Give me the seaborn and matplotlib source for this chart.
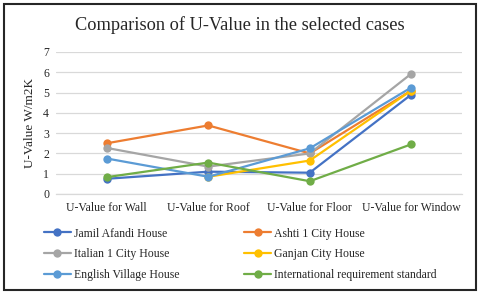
import numpy as np
import pandas as pd
import matplotlib
matplotlib.use("Agg")
import matplotlib.pyplot as plt
import seaborn as sns
from matplotlib.patches import Rectangle
from matplotlib.lines import Line2D

categories = ["U-Value for Wall", "U-Value for Roof", "U-Value for Floor", "U-Value for Window"]
jamil = [0.75, 1.1, 1.05, 4.9]
ashti = [2.5, 3.38, 2.0, 5.1]
italian = [2.27, 1.35, 2.0, 5.93]
ganjan = [np.nan, 0.85, 1.65, 5.1]
english = [1.75, 0.85, 2.25, 5.25]
intl = [0.83, 1.55, 0.63, 2.45]
series_names = ["Jamil Afandi House", "Ashti 1 City House", "Italian 1 City House",
                "Ganjan City House", "English Village House", "International requirement standard"]
series_values = [jamil, ashti, italian, ganjan, english, intl]
colors = ["#4472C4", "#ED7D31", "#A5A5A5", "#FFC000", "#5B9BD5", "#70AD47"]
yticks = [0, 1, 2, 3, 4, 5, 6, 7]

rows = []
for name, vals in zip(series_names, series_values):
    for c, v in zip(categories, vals):
        rows.append({"case": name, "category": c, "value": v})
df = pd.DataFrame(rows)

sns.set_theme(style="white")
plt.rcParams['font.family'] = ['Liberation Serif', 'DejaVu Serif']

fig = plt.figure(figsize=(4.8, 2.94), dpi=100)
ax = fig.add_axes([56/480, 1-194/294, (462-56)/480, (194-52)/294])

sns.lineplot(data=df, x="category", y="value", hue="case", hue_order=series_names,
             palette=colors, marker="o", markersize=6, markeredgewidth=0,
             linewidth=1.6, ax=ax, legend=False, sort=False)

ax.set_xlim(-0.5, 3.5)
ax.set_ylim(0, 7)
ax.set_yticks(yticks)
ax.set_yticklabels([str(t) for t in yticks], fontsize=8.5)
ax.set_xticks(range(len(categories)))
ax.set_xticklabels(categories, fontsize=8.5)
ax.tick_params(axis='both', length=0, pad=5, colors='#262626')
ax.tick_params(axis='x', pad=6)
ax.yaxis.grid(True, color='#D9D9D9', linewidth=0.9)
ax.set_axisbelow(True)
for s in ["left", "right", "top"]:
    ax.spines[s].set_visible(False)
ax.spines["bottom"].set_color('#D9D9D9')
ax.spines["bottom"].set_linewidth(0.9)
ax.set_xlabel("")
ax.set_ylabel("U-Value W/m2K", fontsize=9.5, color='#262626', labelpad=5)

fig.text(0.5, 1-25/294, "Comparison of U-Value in the selected cases",
         ha='center', va='center', fontsize=13.2, color='#262626')

# legend filled row by row (two columns)
order = [0, 2, 4, 1, 3, 5]
handles = [Line2D([0], [0], color=colors[i], linewidth=1.6, marker='o', markersize=6,
                  markeredgewidth=0) for i in order]
labels = [series_names[i] for i in order]
fig.legend(handles, labels, ncol=2, loc='upper left',
           bbox_to_anchor=(33/480, 1-217/294), frameon=False, fontsize=8.5,
           handlelength=2.3, handletextpad=0.25, columnspacing=5.5,
           labelspacing=0.74, labelcolor='#262626')

fig.patches.append(Rectangle((4/480, 4/294), 472/480, 286/294, transform=fig.transFigure,
                             fill=False, edgecolor='#262626', linewidth=1.5))

fig.savefig("out.png", dpi=100, facecolor='white')
